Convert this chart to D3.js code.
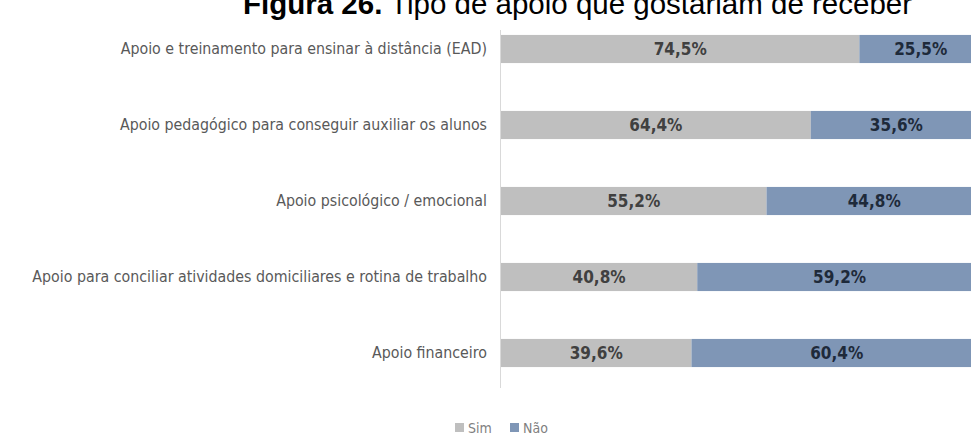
<!DOCTYPE html>
<html><head><meta charset="utf-8">
<script src="https://cdn.jsdelivr.net/npm/d3@7"></script>
<style>body{margin:0;background:#fff;overflow:hidden}svg{display:block}</style>
</head><body>
<svg id="c" width="971" height="437"></svg>
<script>
const categories = [
  "Apoio e treinamento para ensinar à distância (EAD)",
  "Apoio pedagógico para conseguir auxiliar os alunos",
  "Apoio psicológico / emocional",
  "Apoio para conciliar atividades domiciliares e rotina de trabalho",
  "Apoio financeiro"
];
const sim = [74.5, 64.4, 55.2, 40.8, 39.6];
const nao = [25.5, 35.6, 44.8, 59.2, 60.4];
const seriesNames = ["Sim", "Não"];
const colors = ["#bfbfbf", "#7f96b6"];

const svg = d3.select("#c");
const condensed = "'Liberation Sans Narrow','DejaVu Sans Condensed','Roboto Condensed',sans-serif";

// Title (clipped at the top as in the reference)
const title = svg.append("text").attr("x", 243).attr("y", 14)
  .attr("font-family", "Liberation Sans, Arial, sans-serif").attr("font-size", 29.5).attr("fill", "#000");
title.append("tspan").attr("font-weight", "bold").text("Figura 26.");
title.append("tspan").text(" Tipo de apoio que gostariam de receber");

const x = d3.scaleLinear().domain([0, 100]).range([501, 982]);
const y = d3.scaleBand().domain(categories).range([11, 391]).paddingInner(0.63).paddingOuter(0.315);

const rows = categories.map((c, i) => ({c, vals: [sim[i], nao[i]]}));
const stack = d3.stack().keys([0, 1]).value((d, k) => d.vals[k])(rows);

stack.forEach((layer, k) => {
  svg.append("g").selectAll("rect").data(layer).join("rect")
    .attr("x", d => x(d[0])).attr("width", d => x(d[1]) - x(d[0]))
    .attr("y", d => y(d.data.c)).attr("height", y.bandwidth())
    .attr("fill", colors[k]);
  svg.append("g").selectAll("text").data(layer).join("text")
    .attr("x", d => (x(d[0]) + x(d[1])) / 2)
    .attr("y", d => y(d.data.c) + y.bandwidth() / 2)
    .attr("dy", "0.36em").attr("text-anchor", "middle")
    .attr("font-family", condensed).attr("font-weight", "bold").attr("font-size", 17)
    .attr("fill", k === 0 ? "#404040" : "#1e2a3a")
    .text(d => d.data.vals[k].toFixed(1).replace(".", ",") + "%");
});

// axis line
svg.append("line").attr("x1", 500.5).attr("x2", 500.5).attr("y1", 30).attr("y2", 388)
  .attr("stroke", "#d9d9d9").attr("stroke-width", 1);

// category labels
const yAxis = d3.axisLeft(y).tickSize(0).tickPadding(13);
const ga = svg.append("g").attr("transform", "translate(500,0)").call(yAxis);
ga.select(".domain").remove();
ga.selectAll("text").attr("font-family", condensed).attr("font-size", 15.8).attr("fill", "#595959");

// legend
const lg = svg.append("g");
const legendX = [455, 510];
seriesNames.forEach((n, k) => {
  lg.append("rect").attr("x", legendX[k]).attr("y", 423).attr("width", 9).attr("height", 9).attr("fill", colors[k]);
  lg.append("text").attr("x", legendX[k] + 13).attr("y", 433)
    .attr("font-family", condensed).attr("font-size", 14).attr("fill", "#7f7f7f").text(n);
});
</script>
</body></html>
